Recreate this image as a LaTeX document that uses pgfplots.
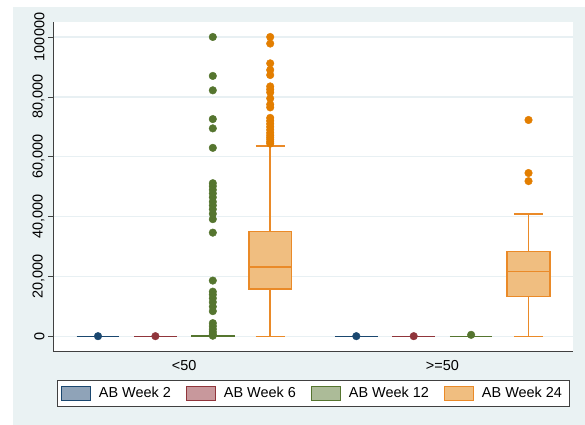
\documentclass[border=0pt]{standalone}
\usepackage{fontspec}
\setmainfont{Liberation Sans}
\usepackage{pgfplots}
\pgfplotsset{compat=1.18}
\definecolor{bgc}{RGB}{234,242,243}
\definecolor{gridc}{RGB}{232,240,243}
\definecolor{cA}{RGB}{26,71,111}
\definecolor{cB}{RGB}{144,53,59}
\definecolor{cC}{RGB}{85,117,47}
\definecolor{cD}{RGB}{227,126,0}
\definecolor{fA}{RGB}{143,163,184}
\definecolor{fB}{RGB}{200,152,156}
\definecolor{fC}{RGB}{172,187,152}
\definecolor{fD}{RGB}{240,190,128}
\definecolor{lD}{RGB}{234,138,40}
\begin{document}
\begin{tikzpicture}
\useasboundingbox (0bp,0bp) rectangle (585bp,425bp);
\fill[white] (0bp,0bp) rectangle (585bp,425bp);
\fill[bgc] (13bp,0bp) rectangle (585bp,418bp);
\begin{axis}[
  at={(53bp,74bp)}, anchor=south west,
  scale only axis, width=520bp, height=329bp,
  xmin=0.216, xmax=9.275, ymin=-4800, ymax=105000,
  unbounded coords=jump,
  axis background/.style={fill=white},
  axis x line*=bottom, axis y line*=left,
  axis line style={black!75, line width=0.8bp},
  xtick={2.5,7}, xticklabels={{<50},{>=50}},
  x tick style={draw=none},
  xticklabel style={yshift=-1bp},
  ytick={0,20000,40000,60000,80000,100000},
  yticklabels={0,{20,000},{40,000},{60,000},{80,000},100000},
  scaled y ticks=false,
  y tick style={black!75, line width=0.8bp},
  tick align=outside, major tick length=5bp,
  yticklabel style={rotate=90, anchor=south},
  ymajorgrids, grid style={gridc, line width=1.2bp},
  tick label style={font=\fontsize{14.5}{16.5}\selectfont},
  /pgf/number format/assume math mode=true,
  legend columns=4,
  legend image code/.code={\draw[#1, line width=1bp] (0bp,-7bp) rectangle (29bp,7bp);},
  legend style={at={(0.5,0)}, anchor=north, yshift=-29bp, draw=black!75, line width=0.8bp, fill=white,
    font=\fontsize{14.5}{16.5}\selectfont, inner xsep=4bp, inner ysep=4bp,
    /tikz/every odd column/.append style={column sep=5bp},
    /tikz/every even column/.append style={column sep=12bp},
    nodes={inner sep=3bp}},
  legend cell align=left,
]
\addlegendimage{draw=cA, fill=fA}\addlegendentry{AB Week 2}
\addlegendimage{draw=cB, fill=fB}\addlegendentry{AB Week 6}
\addlegendimage{draw=cC, fill=fC}\addlegendentry{AB Week 12}
\addlegendimage{draw=lD, fill=fD}\addlegendentry{AB Week 24}
% flat boxes (weeks 2, 6, 12)
\addplot[forget plot, cA, line width=1.5bp] coordinates {(0.628,0) (1.372,0) (nan,nan) (5.128,0) (5.872,0)};
\addplot[forget plot, cB, line width=1.5bp] coordinates {(1.628,0) (2.372,0) (nan,nan) (6.128,0) (6.872,0)};
\addplot[forget plot, cC, line width=1.5bp] coordinates {(2.628,150) (3.372,150) (nan,nan) (7.128,0) (7.872,0)};
\addplot[forget plot, fill=fC, draw=cC, line width=1.5bp] coordinates {(2.628,0) (3.372,0) (3.372,300) (2.628,300)} --cycle;
% week 24 boxes
\addplot[forget plot, fill=fD, draw=lD, line width=1.6bp] coordinates {(3.628,15800) (4.372,15800) (4.372,35050) (3.628,35050)} --cycle;
\addplot[forget plot, fill=fD, draw=lD, line width=1.6bp] coordinates {(8.128,13350) (8.872,13350) (8.872,28350) (8.128,28350)} --cycle;
% medians, whiskers, caps
\addplot[forget plot, lD, line width=1.6bp] coordinates {
 (3.628,23250) (4.372,23250) (nan,nan)
 (4,0) (4,15800) (nan,nan) (4,35050) (4,63700) (nan,nan)
 (3.75,0) (4.25,0) (nan,nan) (3.75,63700) (4.25,63700) (nan,nan)
 (8.128,21700) (8.872,21700) (nan,nan)
 (8.5,0) (8.5,13350) (nan,nan) (8.5,28350) (8.5,40850) (nan,nan)
 (8.25,0) (8.75,0) (nan,nan) (8.25,40850) (8.75,40850)};
% outliers
\addplot[forget plot, only marks, mark=*, mark size=3.8bp, mark options={draw=cA, fill=cA}] coordinates {(1,150) (5.5,150)};
\addplot[forget plot, only marks, mark=*, mark size=3.8bp, mark options={draw=cB, fill=cB}] coordinates {(2,150) (6.5,150)};
\addplot[forget plot, only marks, mark=*, mark size=3.8bp, mark options={draw=cC, fill=cC}] coordinates {
 (3,100000) (3,87000) (3,82200) (3,72600) (3,69500) (3,63000) (3,51200) (3,50200) (3,49000) (3,47800)
 (3,46500) (3,45000) (3,43800) (3,42500) (3,41000) (3,39200) (3,34700) (3,18700) (3,15000) (3,14000)
 (3,12800) (3,11500) (3,10000) (3,8500) (3,4500) (3,3500) (3,2500) (3,1600) (3,800) (3,300)
 (7.5,600)};
\addplot[forget plot, only marks, mark=*, mark size=3.8bp, mark options={draw=cD, fill=cD}] coordinates {
 (4,100000) (4,97800) (4,91200) (4,89000) (4,87300) (4,83500) (4,82500) (4,81500) (4,79500) (4,77500)
 (4,76500) (4,73000) (4,72000) (4,71000) (4,70000) (4,69000) (4,68000) (4,67200) (4,66500) (4,65800)
 (4,65000) (4,64400)
 (8.5,72300) (8.5,54600) (8.5,51900)};
\end{axis}
\end{tikzpicture}
\end{document}
